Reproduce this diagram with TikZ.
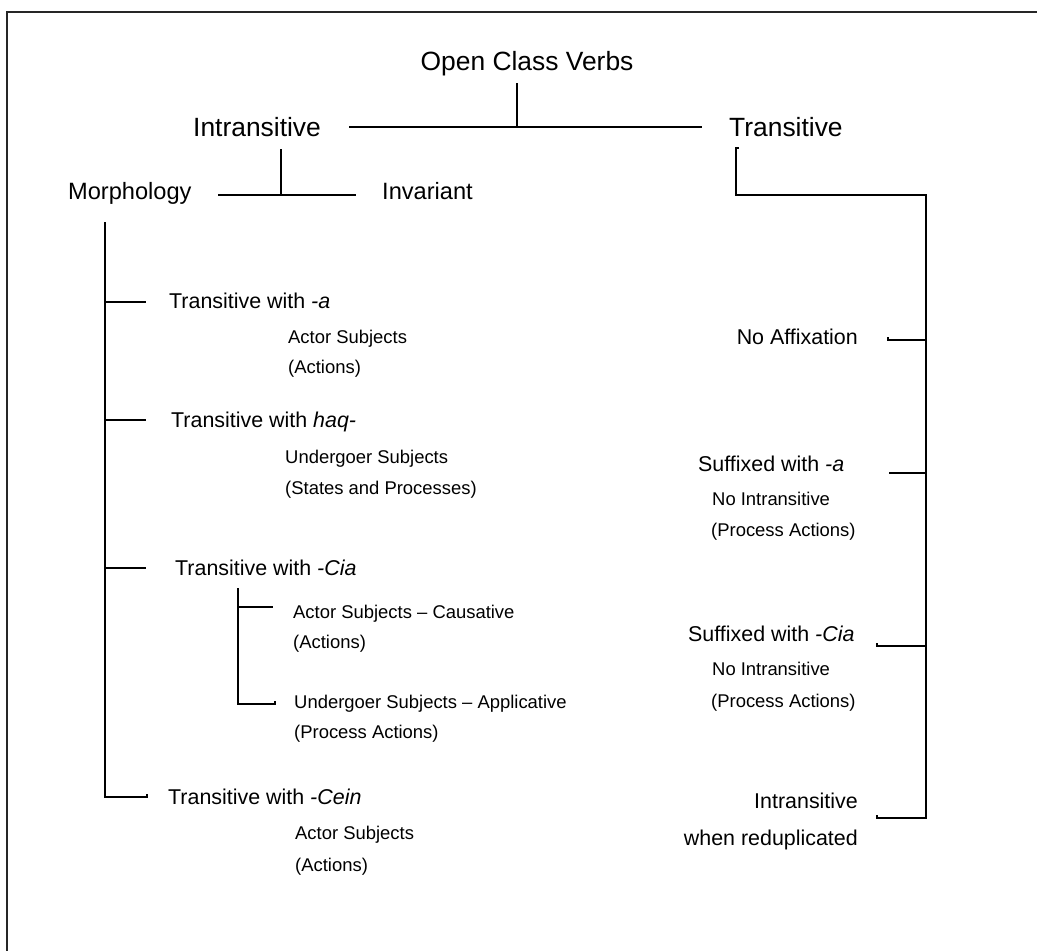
\documentclass[tikz,border=0pt]{standalone}
\usepackage{fontspec}
\setmainfont{Liberation Sans}
\begin{document}
\begin{tikzpicture}[x=1bp,y=-1bp,
  conn/.style={line width=1.6bp, line cap=butt, line join=miter},
  frame/.style={line width=1.8bp, black!85},
  lvlA/.style={inner sep=0pt, font=\fontsize{26.5}{30}\selectfont},
  lvlB/.style={inner sep=0pt, font=\fontsize{23.7}{28}\selectfont},
  lvlC/.style={inner sep=0pt, font=\fontsize{21.5}{26}\selectfont},
  lvlD/.style={inner sep=0pt, font=\fontsize{18.5}{22}\selectfont},
]
\useasboundingbox (0,0) rectangle (1037,951);
\clip (0,0) rectangle (1037,951);

% outer frame (runs off the right and bottom edges)
\coordinate (fbl) at (7,980);
\coordinate (ftl) at (7,12);
\coordinate (ftr) at (1070,12);
\draw[frame] (fbl) -- (ftl) -- (ftr);

% ---------------- labels ----------------
\node[lvlA, anchor=base] (root) at (527,70) {Open Class Verbs};
\node[lvlA, anchor=base west] (intr) at (193,136) {Intransitive};
\node[lvlA, anchor=base west] (tran) at (729,136) {Transitive};
\node[lvlB, anchor=base west] (morph) at (68,199) {Morphology};
\node[lvlB, anchor=base west] (inv) at (382,199) {Invariant};

% morphology branches
\node[lvlC, anchor=base west] (ta) at (169,308) {Transitive with \textit{-a}};
\node[lvlD, anchor=base west] (taA) at (288,343) {Actor Subjects};
\node[lvlD, anchor=base west] (taB) at (288,373) {(Actions)};

\node[lvlC, anchor=base west] (th) at (171,427) {Transitive with \textit{haq-}};
\node[lvlD, anchor=base west] (thA) at (285,463) {Undergoer Subjects};
\node[lvlD, anchor=base west] (thB) at (285,494) {(States and Processes)};

\node[lvlC, anchor=base west] (tc) at (175,575) {Transitive with \textit{-Cia}};
\node[lvlD, anchor=base west] (tcA) at (293,618) {Actor Subjects – Causative};
\node[lvlD, anchor=base west] (tcB) at (293,648) {(Actions)};
\node[lvlD, anchor=base west] (tcC) at (294,708) {Undergoer Subjects – Applicative};
\node[lvlD, anchor=base west] (tcD) at (294,738) {(Process Actions)};

\node[lvlC, anchor=base west] (te) at (168,804) {Transitive with \textit{-Cein}};
\node[lvlD, anchor=base west] (teA) at (295,839) {Actor Subjects};
\node[lvlD, anchor=base west] (teB) at (295,871) {(Actions)};

% transitive branches
\node[lvlC, anchor=base east] (na) at (858,344) {No Affixation};
\node[lvlC, anchor=base west] (sa) at (698,471) {Suffixed with \textit{-a}};
\node[lvlD, anchor=base west] (saA) at (712,505) {No Intransitive};
\node[lvlD, anchor=base west] (saB) at (711,536) {(Process Actions)};
\node[lvlC, anchor=base west] (sc) at (688,641) {Suffixed with \textit{-Cia}};
\node[lvlD, anchor=base west] (scA) at (712,675) {No Intransitive};
\node[lvlD, anchor=base west] (scB) at (711,707) {(Process Actions)};
\node[lvlC, anchor=base east] (ir) at (858,808) {Intransitive};
\node[lvlC, anchor=base east] (irB) at (858,845) {when reduplicated};

% ---------------- connector points ----------------
\coordinate (rootDown) at (517,83);
\coordinate (rootJoin) at (517,127);
\coordinate (barL) at (349,127);
\coordinate (barR) at (702,127);

\coordinate (intrDown) at (281,149);
\coordinate (intrJoin) at (281,195);
\coordinate (ibarL) at (218,195);
\coordinate (ibarR) at (356,195);

\coordinate (tranTop) at (736,148);
\coordinate (tranHook) at (739,148);
\coordinate (tranCorner) at (736,195);
\coordinate (spineTop) at (926,195);
\coordinate (spineBot) at (926,818);
\coordinate (naJ) at (926,340);
\coordinate (naE) at (888,340);
\coordinate (naH) at (888,337);
\coordinate (saJ) at (926,473);
\coordinate (saE) at (889,473);
\coordinate (scJ) at (926,646);
\coordinate (scE) at (877,646);
\coordinate (scH) at (877,643);
\coordinate (irE) at (877,818);
\coordinate (irH) at (877,815);

\coordinate (mTop) at (105,222);
\coordinate (mBot) at (105,797);
\coordinate (teE) at (147,797);
\coordinate (teH) at (147,794);
\coordinate (taJ) at (105,302);
\coordinate (taE) at (146,302);
\coordinate (thJ) at (105,420);
\coordinate (thE) at (146,420);
\coordinate (tcJ) at (105,568);
\coordinate (tcE) at (146,568);

\coordinate (subTop) at (238,588);
\coordinate (subBot) at (238,704);
\coordinate (subAJ) at (238,607);
\coordinate (subAE) at (273,607);
\coordinate (subCE) at (275,704);
\coordinate (subCH) at (275,701);

% ---------------- connectors ----------------
\draw[conn] (rootDown) -- (rootJoin);
\draw[conn] (barL) -- (barR);

\draw[conn] (intrDown) -- (intrJoin);
\draw[conn] (ibarL) -- (ibarR);

\draw[conn] (tranHook) -- (tranTop) -- (tranCorner) -- (spineTop) -- (spineBot) -- (irE) -- (irH);
\draw[conn] (naH) -- (naE) -- (naJ);
\draw[conn] (saE) -- (saJ);
\draw[conn] (scH) -- (scE) -- (scJ);

\draw[conn] (mTop) -- (mBot) -- (teE) -- (teH);
\draw[conn] (taJ) -- (taE);
\draw[conn] (thJ) -- (thE);
\draw[conn] (tcJ) -- (tcE);

\draw[conn] (subTop) -- (subBot) -- (subCE) -- (subCH);
\draw[conn] (subAJ) -- (subAE);
\end{tikzpicture}
\end{document}
